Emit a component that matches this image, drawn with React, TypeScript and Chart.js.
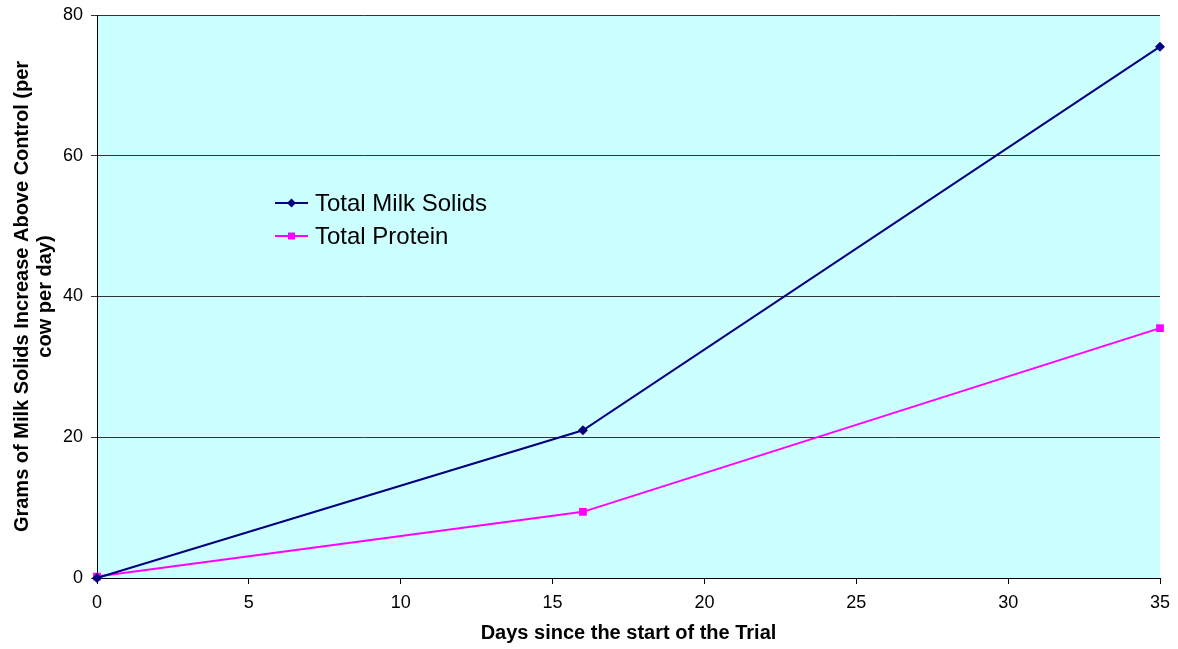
import React, { useEffect, useRef } from "react";
import { Chart, registerables } from "chart.js";

Chart.register(...registerables);

const days = [0, 16, 35];
const milkSolids = [0, 21, 75.5];
const protein = [0.2, 9.4, 35.5];
const seriesNames = ["Total Milk Solids", "Total Protein"];
const xTitle = "Days since the start of the Trial";
const yTitle = ["Grams of Milk Solids Increase Above Control (per", "cow per day)"];

const FONT = "'Liberation Sans', Arial, sans-serif";

export default function App() {
  const ref = useRef<HTMLCanvasElement | null>(null);

  useEffect(() => {
    document.body.style.margin = "0";
    const canvas = ref.current!;
    const bgPlugin = {
      id: "bg",
      beforeDraw(chart: any) {
        const { ctx, chartArea: a } = chart;
        ctx.save();
        ctx.fillStyle = "#ffffff";
        ctx.fillRect(0, 0, chart.width, chart.height);
        ctx.fillStyle = "#CCFFFF";
        ctx.fillRect(a.left, a.top, a.right - a.left, a.bottom - a.top);
        ctx.restore();
      },
      afterDraw(chart: any) {
        const { ctx, chartArea: a } = chart;
        ctx.save();
        // axis titles
        ctx.fillStyle = "#000";
        ctx.font = `bold 20px ${FONT}`;
        ctx.textAlign = "center";
        ctx.textBaseline = "middle";
        ctx.fillText(xTitle, (a.left + a.right) / 2, 633);
        ctx.save();
        ctx.translate(22, (a.top + a.bottom) / 2);
        ctx.rotate(-Math.PI / 2);
        ctx.fillText(yTitle[0], 0, 0);
        ctx.fillText(yTitle[1], 0, 23);
        ctx.restore();
        // legend
        const items = [
          { name: seriesNames[0], color: "#000080", style: "rectRot", r: 4.5 },
          { name: seriesNames[1], color: "#FF00FF", style: "rect", r: 4.5 },
        ];
        items.forEach((it, i) => {
          const y = 203 + i * 33;
          ctx.strokeStyle = it.color;
          ctx.lineWidth = 2;
          ctx.beginPath();
          ctx.moveTo(275, y);
          ctx.lineTo(308, y);
          ctx.stroke();
          ctx.fillStyle = it.color;
          ctx.beginPath();
          if (it.style === "rectRot") {
            ctx.moveTo(291.5, y - it.r);
            ctx.lineTo(291.5 + it.r, y);
            ctx.lineTo(291.5, y + it.r);
            ctx.lineTo(291.5 - it.r, y);
            ctx.closePath();
            ctx.fill();
          } else {
            ctx.fillRect(291.5 - 3.5, y - 3.5, 7, 7);
          }
          ctx.fillStyle = "#000";
          ctx.font = `24px ${FONT}`;
          ctx.textAlign = "left";
          ctx.textBaseline = "middle";
          ctx.fillText(it.name, 315, y + 1);
        });
        ctx.restore();
      },
    };

    const chart = new Chart(canvas, {
      type: "line",
      data: {
        datasets: [
          {
            label: seriesNames[0],
            data: days.map((d, i) => ({ x: d, y: milkSolids[i] })),
            borderColor: "#000080",
            backgroundColor: "#000080",
            borderWidth: 2,
            pointStyle: "rectRot",
            pointRadius: 5,
            pointBorderWidth: 0,
            clip: false,
          },
          {
            label: seriesNames[1],
            data: days.map((d, i) => ({ x: d, y: protein[i] })),
            borderColor: "#FF00FF",
            backgroundColor: "#FF00FF",
            borderWidth: 2,
            pointStyle: "rect",
            pointRadius: 5.5,
            pointBorderWidth: 0,
            clip: false,
          },
        ],
      },
      options: {
        responsive: false,
        animation: false,
        layout: { padding: { left: 0, top: 15, right: 18, bottom: 0 } },
        plugins: { legend: { display: false }, tooltip: { enabled: false } },
        scales: {
          x: {
            type: "linear",
            min: 0,
            max: 35,
            ticks: { stepSize: 5, color: "#000", font: { family: FONT, size: 18 }, padding: 8 },
            grid: { drawOnChartArea: false, drawTicks: true, tickLength: 6, color: "#000" },
            border: { display: true, color: "#000", width: 1 },
            afterFit(scale: any) {
              scale.height = 71;
              scale.paddingLeft = 0;
              scale.paddingRight = 0;
            },
          },
          y: {
            min: 0,
            max: 80,
            ticks: { stepSize: 20, color: "#000", font: { family: FONT, size: 18 }, padding: 8 },
            grid: { color: "#333", tickLength: 6, drawTicks: true },
            border: { display: true, color: "#000", width: 1 },
            afterFit(scale: any) {
              scale.width = 97;
              scale.paddingTop = 0;
              scale.paddingBottom = 0;
            },
          },
        },
      },
      plugins: [bgPlugin],
    } as any);
    return () => chart.destroy();
  }, []);

  return (
    <div style={{ position: "absolute", left: 0, top: 0, width: 1178, height: 649 }}>
      <canvas ref={ref} width={1178} height={649} />
    </div>
  );
}
